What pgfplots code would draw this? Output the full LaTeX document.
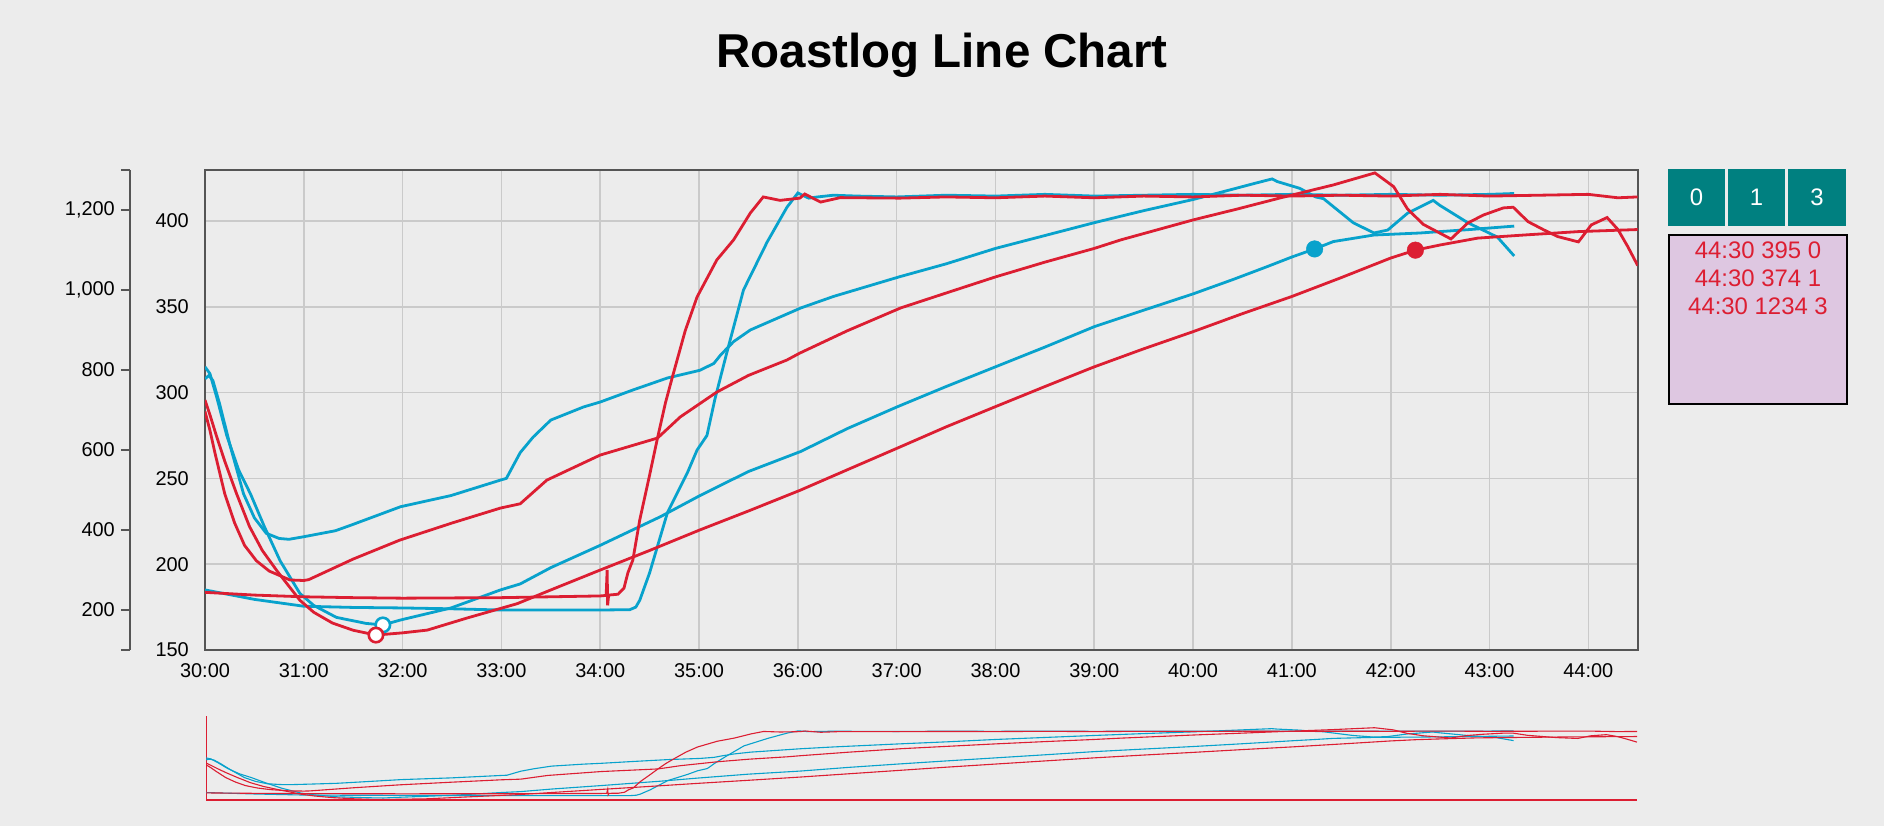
\documentclass[border=0pt]{standalone}
\usepackage{pgfplots}
\pgfplotsset{compat=1.18}
\usepackage{pgfplotstable}
\usepackage{fontspec}
\setmainfont{Liberation Sans}

\definecolor{bgc}{RGB}{236,236,236}
\definecolor{lblue}{RGB}{8,162,204}
\definecolor{lred}{RGB}{220,30,50}
\definecolor{framec}{RGB}{85,85,85}
\definecolor{gridc}{RGB}{202,202,202}
\definecolor{btnc}{RGB}{0,128,128}
\definecolor{pinkc}{RGB}{222,199,225}

% blue, upper curve
\pgfplotstableread{
x y
30.00 308
30.04 310
30.08 307
30.15 293
30.25 270
30.39 241
30.50 227
30.62 218
30.75 215
30.85 214.5
31.00 216
31.32 219.5
31.48 222.8
31.98 233.5
32.49 240
32.99 249
33.05 250
33.19 265
33.32 274
33.50 284
33.83 291.6
34.00 294.5
34.33 301.5
34.68 308.5
35.01 313
35.15 317
35.22 322
35.35 329.7
35.52 336.5
36.03 349.3
36.36 356
37.03 367.5
37.50 375
38.00 384
38.50 391.5
39.00 399
39.50 406
40.00 412.5
40.40 418.5
40.63 422
40.80 424.5
40.85 423
41.08 419
41.24 414
41.32 413
41.62 399
41.83 393
41.97 394.7
42.17 404.5
42.43 412
42.50 409
42.78 399
43.08 390.6
43.25 379.6
}\bu

% blue, lower curve
\pgfplotstableread{
x y
30.00 315
30.05 311
30.12 297
30.22 275
30.34 255
30.46 241
30.60 222
30.76 202
30.96 183
31.10 176
31.33 169
31.63 165.5
31.80 164.6
31.98 167.5
32.49 174.5
32.99 185
33.19 188.5
33.50 198
34.00 211
34.61 227.7
35.01 240
35.50 254
36.03 265.7
36.50 279
37.01 291.8
37.50 303.5
38.00 315
38.50 326.5
39.00 338.4
39.50 348
40.00 357.5
40.41 366
40.75 373.4
41.00 379
41.23 383.7
41.42 388
41.83 391.8
42.30 393
42.80 395
43.25 397
}\bl

% blue, steep riser
\pgfplotstableread{
x y
30.00 185
30.50 179.5
31.00 175.5
31.50 174.8
32.00 174.5
32.50 174
33.00 173.3
34.00 173.3
34.30 173.5
34.36 175
34.40 179
34.50 195
34.68 230
34.88 253
34.98 266.5
35.08 275
35.16 296
35.28 323
35.45 359.8
35.69 387.8
35.89 408
36.00 416.3
36.11 413.3
36.20 414
36.36 415
36.60 414.5
37.00 414
37.50 415
38.00 414.5
38.50 415.5
39.00 414.5
39.50 415
40.00 415.5
40.50 415
41.00 415.5
41.50 415
42.00 415.5
42.50 415
43.00 415.5
43.25 416
}\bs

% red, upper curve
\pgfplotstableread{
x y
30.00 289
30.05 278
30.10 265
30.20 241
30.30 224
30.40 211
30.52 202
30.65 196
30.86 190.8
31.00 190.5
31.05 191
31.50 203
31.97 214
32.50 224
32.99 232.7
33.19 235.2
33.46 249
34.00 263.6
34.58 273.5
34.81 285.8
35.18 300.3
35.50 310
35.89 319
36.02 323
36.50 336
37.04 349.3
37.50 358
38.00 367.4
38.50 376
39.00 384
39.27 389
40.00 400.6
40.45 407
40.88 413.4
41.42 421
41.84 428
42.03 420
42.17 407
42.33 398
42.61 389.5
42.78 398.8
42.94 403.5
43.14 407.6
43.24 408
43.39 399.6
43.55 394.8
43.69 390.9
43.90 387.8
44.03 397.7
44.19 402
44.30 395
44.40 385
44.50 374
}\ru

% red, lower curve
\pgfplotstableread{
x y
30.00 295.7
30.05 287
30.12 274
30.20 260
30.32 241
30.45 222
30.58 208
30.73 196
30.96 179
31.10 172
31.29 165.7
31.50 161.5
31.73 158.7
32.00 160
32.25 161.6
32.65 168.6
33.16 177
33.50 185
34.00 196.6
34.50 208
35.01 220
35.50 231
36.02 243
36.50 255
37.01 267.7
37.50 280
38.00 291.8
38.50 303.5
39.00 315
39.50 325.5
40.00 335.5
40.50 346
41.00 356
41.50 367
42.00 378.4
42.25 383
42.50 386
42.88 390
43.40 392
43.90 393.8
44.50 395
}\rl

% red, steep riser
\pgfplotstableread{
x y
30.00 183.6
30.50 182
31.00 181
31.50 180.5
32.00 180.2
33.00 180.5
33.50 181
34.00 181.5
34.06 181.8
34.07 196.6
34.075 176
34.085 182
34.18 182.5
34.24 186
34.28 195
34.33 202.4
34.40 225.8
34.50 252
34.58 273.6
34.66 294
34.73 309
34.86 336
34.98 355.7
35.18 377.3
35.35 389
35.52 404.7
35.65 414
35.82 412
36.02 413.3
36.07 415.7
36.23 411
36.43 413.6
37.03 413.3
37.50 414
38.00 413.5
38.50 414.5
39.00 413.5
39.50 414.5
40.00 414
40.50 415
41.00 414.5
41.50 415
42.00 414.5
42.50 415.5
43.00 414.5
43.50 415
44.00 415.5
44.30 413.5
44.50 414
}\rs

\begin{document}
\begin{tikzpicture}
\path[use as bounding box] (0bp,0bp) rectangle (1884bp,826bp);
\fill[bgc] (0bp,0bp) rectangle (1884bp,826bp);

\node[anchor=base, font=\bfseries\fontsize{47.7}{57}\selectfont] at (942bp,758bp) {Roastlog Line Chart};

% outer left axis
\begin{axis}[
  at={(130bp,176bp)}, anchor=south west, scale only axis,
  width=10bp, height=480bp,
  xmin=0, xmax=1, ymin=100, ymax=1300,
  hide x axis, axis y line*=left,
  axis line style={-, draw=framec, line width=2bp},
  ytick={200,400,...,1200},
  yticklabels={200,400,600,800,{1,000},{1,200}},
  extra y ticks={100,1300}, extra y tick labels={},
  tick align=outside, major tick length=9bp,
  tick style={draw=framec, line width=2bp},
  yticklabel style={font=\fontsize{20}{24}\selectfont, inner sep=0pt, anchor=east, xshift=-6bp},
]
\addplot[draw=none] coordinates {(0,100)};
\end{axis}

% main axis
\begin{axis}[
  at={(205bp,176bp)}, anchor=south west, scale only axis,
  width=1432.7bp, height=480bp,
  xmin=30, xmax=44.5, ymin=150, ymax=429.7,
  axis background/.style={fill=bgc},
  axis line style={draw=framec, line width=2bp},
  xtick={30,...,44},
  xticklabels={30:00,31:00,32:00,33:00,34:00,35:00,36:00,37:00,38:00,39:00,40:00,41:00,42:00,43:00,44:00},
  ytick={150,200,...,400},
  grid=major, grid style={draw=gridc, line width=1.6bp},
  major tick length=0pt,
  tick label style={font=\fontsize{20}{24}\selectfont, inner sep=0pt},
  xticklabel style={anchor=north, yshift=-13bp},
  yticklabel style={anchor=east, xshift=-16bp},
  /pgf/number format/assume math mode=true,
]
\addplot[lblue, line width=2.8bp, no markers] table {\bs};
\addplot[lblue, line width=2.8bp, no markers] table {\bl};
\addplot[lblue, line width=2.8bp, no markers] table {\bu};
\addplot[lred, line width=2.8bp, no markers] table {\rs};
\addplot[lred, line width=2.8bp, no markers] table {\rl};
\addplot[lred, line width=2.8bp, no markers] table {\ru};
\addplot[only marks, mark=*, mark size=7.2bp, draw=lblue, fill=white, line width=2.6bp] coordinates {(31.80,164.6)};
\addplot[only marks, mark=*, mark size=7.2bp, draw=lred, fill=white, line width=2.6bp] coordinates {(31.73,158.7)};
\addplot[only marks, mark=*, mark size=8.3bp, draw=lblue, fill=lblue] coordinates {(41.23,383.7)};
\addplot[only marks, mark=*, mark size=8.3bp, draw=lred, fill=lred] coordinates {(42.25,383)};
\end{axis}

% overview strip
\begin{axis}[
  at={(206bp,26bp)}, anchor=south west, scale only axis,
  width=1431bp, height=84bp,
  xmin=30, xmax=44.5, ymin=157, ymax=472,
  axis x line*=bottom, axis y line*=left,
  axis line style={-, draw=lred},
  x axis line style={line width=2bp},
  y axis line style={line width=1bp},
  xtick=\empty, ytick=\empty,
]
\addplot[lblue, line width=1.1bp, no markers] table {\bs};
\addplot[lblue, line width=1.1bp, no markers] table {\bl};
\addplot[lblue, line width=1.1bp, no markers] table {\bu};
\addplot[lred, line width=1.1bp, no markers] table {\rs};
\addplot[lred, line width=1.1bp, no markers] table {\rl};
\addplot[lred, line width=1.1bp, no markers] table {\ru};
\end{axis}

% side panel
\fill[btnc] (1668bp,600bp) rectangle (1725bp,657bp);
\fill[btnc] (1728bp,600bp) rectangle (1785bp,657bp);
\fill[btnc] (1788bp,600bp) rectangle (1846bp,657bp);
\begin{scope}[every node/.style={text=white, font=\fontsize{24}{28}\selectfont, inner sep=0pt}]
\node at (1696.5bp,628.5bp) {0};
\node at (1756.5bp,628.5bp) {1};
\node at (1817bp,628.5bp) {3};
\end{scope}
\filldraw[fill=pinkc, draw=black, line width=1.5bp] (1669bp,422bp) rectangle (1847bp,591bp);
\begin{scope}[every node/.style={text=lred, font=\fontsize{24}{28}\selectfont, inner sep=0pt, anchor=base}]
\node at (1758bp,567bp) {44:30 395 0};
\node at (1758bp,539bp) {44:30 374 1};
\node at (1758bp,511bp) {44:30 1234 3};
\end{scope}
\end{tikzpicture}
\end{document}
